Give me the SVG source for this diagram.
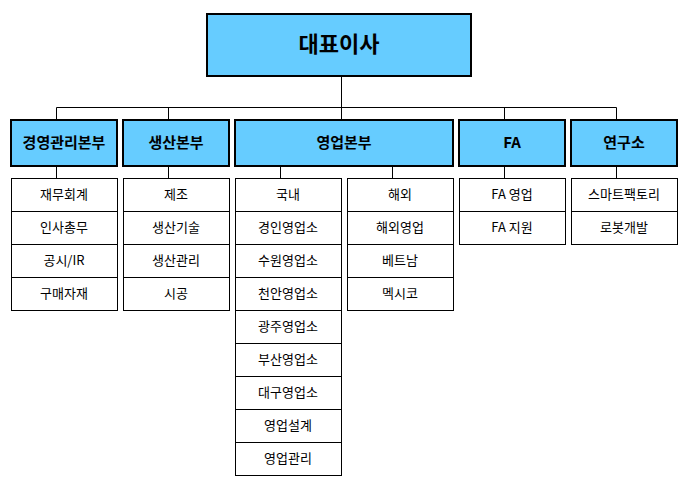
<svg xmlns="http://www.w3.org/2000/svg" width="681" height="480" viewBox="0 0 681 480">
<style>
.h{fill:#66CCFF;stroke:#000;stroke-width:2}
.s{fill:#fff;stroke:#000;stroke-width:1}
.ht{font-family:"Noto Sans CJK KR",sans-serif;font-weight:bold;font-size:15px;text-anchor:middle}
.st{font-family:"Noto Sans CJK KR",sans-serif;font-size:13px;text-anchor:middle}
.c{stroke:#000;stroke-width:1;fill:none}
</style>
<rect width="681" height="480" fill="#fff"/>
<g id="connectors" class="c">
<path d="M341.5 76V107.5M56.5 107.5H616.5M56.5 107.5V120M168.5 107.5V120M341.5 107.5V120M504.5 107.5V120M616.5 107.5V120"/>
<path d="M56.5 166V178M168.5 166V178M280.5 166V178M392.5 166V178M504.5 166V178M616.5 166V178"/>
</g>
<g id="ceo"><rect class="h" x="207" y="14" width="264" height="62"/><text x="339" y="52" class="ht" style="font-size:22px">대표이사</text></g>
<g id="h1"><rect class="h" x="11" y="120" width="106" height="46"/><text x="64" y="148" class="ht">경영관리본부</text></g>
<g id="h2"><rect class="h" x="123" y="120" width="106" height="46"/><text x="176" y="148" class="ht">생산본부</text></g>
<g id="h3"><rect class="h" x="235" y="120" width="218" height="46"/><text x="344" y="148" class="ht">영업본부</text></g>
<g id="h4"><rect class="h" x="459" y="120" width="106" height="46"/><text x="512" y="148" class="ht">FA</text></g>
<g id="h5"><rect class="h" x="571" y="120" width="106" height="46"/><text x="624" y="148" class="ht">연구소</text></g>
<g id="c1">
<rect class="s" x="11.5" y="178.5" width="106" height="132"/>
<path class="c" d="M11.5 211.5H117.5M11.5 244.5H117.5M11.5 277.5H117.5"/>
<text class="st" x="64" y="199">재무회계</text><text class="st" x="64" y="232">인사총무</text><text class="st" x="64" y="265">공시/IR</text><text class="st" x="64" y="298">구매자재</text>
</g>
<g id="c2">
<rect class="s" x="123.5" y="178.5" width="106" height="132"/>
<path class="c" d="M123.5 211.5H229.5M123.5 244.5H229.5M123.5 277.5H229.5"/>
<text class="st" x="176" y="199">제조</text><text class="st" x="176" y="232">생산기술</text><text class="st" x="176" y="265">생산관리</text><text class="st" x="176" y="298">시공</text>
</g>
<g id="c3">
<rect class="s" x="235.5" y="178.5" width="106" height="297"/>
<path class="c" d="M235.5 211.5H341.5M235.5 244.5H341.5M235.5 277.5H341.5M235.5 310.5H341.5M235.5 343.5H341.5M235.5 376.5H341.5M235.5 409.5H341.5M235.5 442.5H341.5"/>
<text class="st" x="288" y="199">국내</text><text class="st" x="288" y="232">경인영업소</text><text class="st" x="288" y="265">수원영업소</text><text class="st" x="288" y="298">천안영업소</text><text class="st" x="288" y="331">광주영업소</text><text class="st" x="288" y="364">부산영업소</text><text class="st" x="288" y="397">대구영업소</text><text class="st" x="288" y="430">영업설계</text><text class="st" x="288" y="463">영업관리</text>
</g>
<g id="c4">
<rect class="s" x="347.5" y="178.5" width="106" height="132"/>
<path class="c" d="M347.5 211.5H453.5M347.5 244.5H453.5M347.5 277.5H453.5"/>
<text class="st" x="400" y="199">해외</text><text class="st" x="400" y="232">해외영업</text><text class="st" x="400" y="265">베트남</text><text class="st" x="400" y="298">멕시코</text>
</g>
<g id="c5">
<rect class="s" x="459.5" y="178.5" width="106" height="66"/>
<path class="c" d="M459.5 211.5H565.5"/>
<text class="st" x="512" y="199">FA 영업</text><text class="st" x="512" y="232">FA 지원</text>
</g>
<g id="c6">
<rect class="s" x="571.5" y="178.5" width="106" height="66"/>
<path class="c" d="M571.5 211.5H677.5"/>
<text class="st" x="624" y="199">스마트팩토리</text><text class="st" x="624" y="232">로봇개발</text>
</g>
</svg>
